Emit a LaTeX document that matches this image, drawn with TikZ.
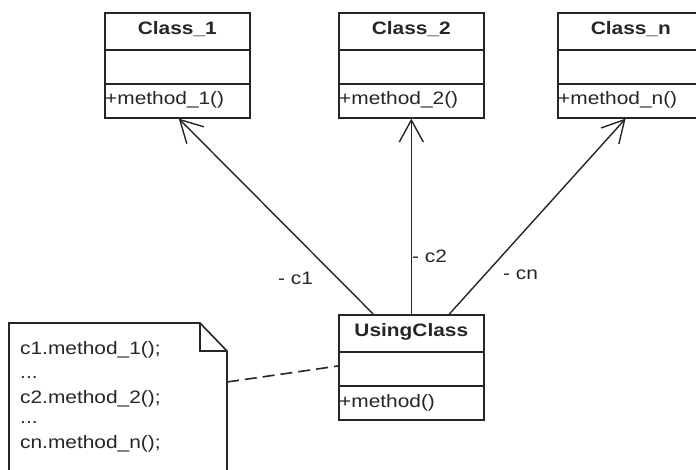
\documentclass[tikz,border=0pt]{standalone}
\usepackage{fontspec}
\setmainfont[FakeStretch=1.16]{Liberation Sans}
\usetikzlibrary{arrows.meta,calc}
\definecolor{ink}{HTML}{262626}
\begin{document}
\begin{tikzpicture}[x=1pt,y=-1pt,
  every node/.style={font=\fontsize{18}{20}\selectfont, text=ink},
  umlbox/.style={draw=ink, line width=1.6pt, minimum width=145pt, minimum height=105pt, inner sep=0pt, anchor=north west},
  hdr/.style={font=\fontsize{18}{20}\selectfont\bfseries, anchor=base, inner sep=0pt},
  meth/.style={anchor=base west, inner sep=0pt},
  divider/.style={draw=ink, line width=1.6pt},
  assoc/.style={draw=ink, line width=1.4pt, -{Straight Barb[length=22pt,width=24pt,line width=1.4pt]}},
  notetxt/.style={anchor=base west, inner sep=0pt},
  lbl/.style={anchor=base west, inner sep=0pt}
]
\fill[white] (0,0) rectangle (696,470);
\useasboundingbox (0,0) rectangle (696,470);
\clip (0,0) rectangle (696,470);

% class boxes
\node[umlbox] (cA) at (104,12) {};
\node[umlbox] (cB) at (338,12) {};
\node[umlbox, minimum width=146pt] (cN) at (557,12) {};
\node[umlbox] (uc) at (338,314) {};

\foreach \b in {cA,cB,cN,uc}{
  \draw[divider] ($(\b.north west)+(0,38)$) -- ($(\b.north east)+(0,38)$);
  \draw[divider] ($(\b.north west)+(0,72)$) -- ($(\b.north east)+(0,72)$);
}

% texts in classes
\node[hdr] (tA) at ($(cA.north)+(0,23)$) {Class\_1};
\node[hdr] (tB) at ($(cB.north)+(0,23)$) {Class\_2};
\node[hdr] (tN) at ($(cN.north)+(0,23)$) {Class\_n};
\node[hdr] (tU) at ($(uc.north)+(0,23)$) {UsingClass};
\node[meth] (mA) at ($(cA.north west)+(1,93)$) {+method\_1()};
\node[meth] (mB) at ($(cB.north west)+(1,93)$) {+method\_2()};
\node[meth] (mN) at ($(cN.north west)+(1,93)$) {+method\_n()};
\node[meth] (mU) at ($(uc.north west)+(1,93)$) {+method()};

% associations
\coordinate (s1) at ($(uc.north west)!0.24!(uc.north east)$);
\coordinate (s2) at ($(uc.north west)!0.5!(uc.north east)$);
\coordinate (s3) at ($(uc.north west)!0.76!(uc.north east)$);
\coordinate (e1) at ($(cA.south west)!0.51!(cA.south east)$);
\coordinate (e3) at ($(cN.south west)!0.465!(cN.south east)$);
\draw[assoc] (s1) -- (e1);
\draw[assoc] (s2) -- (cB.south);
\draw[assoc] (s3) -- (e3);

\node[lbl] (l1) at (278,285) {- c1};
\node[lbl] (l2) at (412,263) {- c2};
\node[lbl] (l3) at (503,280) {- cn};

% note
\coordinate (nTL) at (9,323);
\coordinate (nF1) at (200,323);
\coordinate (nF2) at (227,351);
\draw[ink, line width=1.6pt, fill=white] (9,490) -- (nTL) -- (nF1) -- (nF2) -- (227,490);
\draw[ink, line width=1.6pt] (nF1) -- (200,351) -- (nF2);
\coordinate (nAnchor) at (227,382);
\coordinate (uAnchor) at ($(uc.north west)+(0,52)$);
\draw[ink, line width=1.6pt, dash pattern=on 12pt off 6pt] (nAnchor) -- (uAnchor);

\node[notetxt] (n1) at (20,354) {c1.method\_1();};
\node[notetxt] (n2) at (20,378) {...};
\node[notetxt] (n3) at (20,403) {c2.method\_2();};
\node[notetxt] (n4) at (20,423) {...};
\node[notetxt] (n5) at (20,448) {cn.method\_n();};
\end{tikzpicture}
\end{document}
